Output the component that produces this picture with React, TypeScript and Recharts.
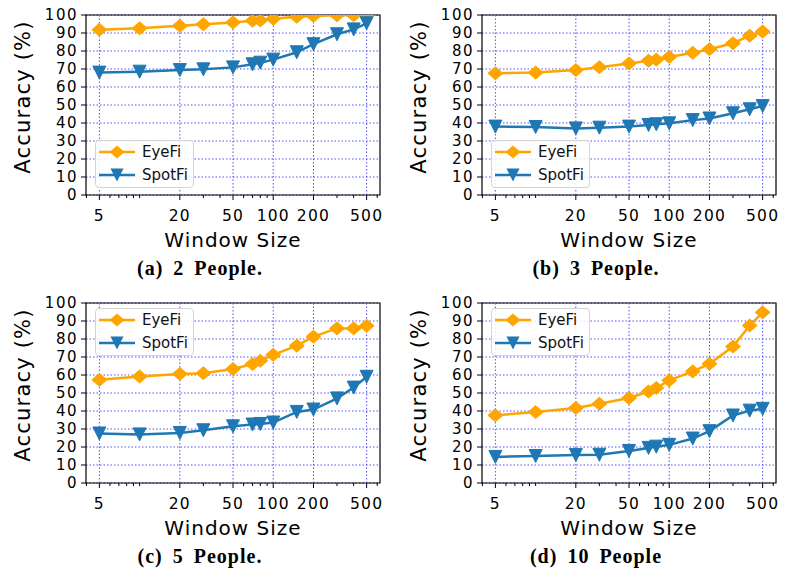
import * as React from "react";
import {
  CartesianGrid,
  Legend,
  Line,
  LineChart,
  ReferenceArea,
  ReferenceLine,
  XAxis,
  YAxis,
} from "recharts";

// window sizes shared by all four panels
const windowSizes = [5, 10, 20, 30, 50, 70, 80, 100, 150, 200, 300, 400, 500];

const eyefi2 = [91.8, 92.6, 94, 94.8, 95.9, 96.8, 97, 97.9, 99, 99.5, 99.8, 99.8, 99.8];
const spotfi2 = [68, 68.5, 69.4, 69.8, 70.9, 72.6, 73.5, 75.2, 79.3, 83.8, 89.3, 92, 95.4];

const eyefi3 = [67.6, 68, 69.4, 71, 73.1, 74.6, 75.2, 76.7, 79, 81, 84.3, 88.5, 90.8];
const spotfi3 = [38, 37.8, 37, 37.4, 38, 38.9, 39.3, 39.8, 41.6, 42.5, 45.4, 47.6, 49.4];

const eyefi5 = [57.3, 59.2, 60.6, 61, 63.3, 66.1, 67.9, 71.2, 76.3, 81.3, 85.9, 85.9, 87.3];
const spotfi5 = [27.5, 27, 27.8, 29.3, 31.5, 32.5, 32.8, 33.6, 39.5, 40.8, 47, 53, 59];

const eyefi10 = [37.6, 39.4, 41.7, 44, 47.2, 50.8, 52.8, 57, 62, 66.2, 75.8, 87.5, 94.8];
const spotfi10 = [14.5, 15, 15.5, 15.7, 17.8, 19.5, 20.2, 21.2, 24.7, 28.8, 37.5, 40.2, 41.2];

const xMajorTicks = [5, 20, 50, 100, 200, 500];
const xMinorTicks = [4, 6, 7, 8, 9, 10, 30, 40, 60, 70, 80, 90, 300, 400, 600];
const yTicks = [0, 10, 20, 30, 40, 50, 60, 70, 80, 90, 100];
const xDomain = [3.97, 629.5];

const ORANGE = "#ffa500";
const BLUE = "#1f77b4";
const GRID = "#5050ff";
const FONT = "DejaVu Sans";

const CHART_W = 390;
const CHART_H = 255;
const PLOT_TOP = 15;

const series = [
  { key: "eyefi", name: "EyeFi", color: ORANGE, marker: "diamond" },
  { key: "spotfi", name: "SpotFi", color: BLUE, marker: "triangle" },
];

const panels = [
  { caption: "(a) 2 People.", eyefi: eyefi2, spotfi: spotfi2, left: 0, top: 0, legendTop: 140 },
  { caption: "(b) 3 People.", eyefi: eyefi3, spotfi: spotfi3, left: 396, top: 0, legendTop: 140 },
  { caption: "(c) 5 People.", eyefi: eyefi5, spotfi: spotfi5, left: 0, top: 288, legendTop: 20 },
  { caption: "(d) 10 People", eyefi: eyefi10, spotfi: spotfi10, left: 396, top: 288, legendTop: 20 },
];

// marker drawn inside a nested svg so it gets clipped at the top spine
function Marker({ cx, cy, kind, color }: any) {
  if (cx == null || cy == null) return null;
  const lx = 10;
  const ly = cy - PLOT_TOP;
  const pts =
    kind === "diamond"
      ? `${lx},${ly - 6.5} ${lx + 7.5},${ly} ${lx},${ly + 6.5} ${lx - 7.5},${ly}`
      : `${lx - 6.5},${ly - 6.5} ${lx + 6.5},${ly - 6.5} ${lx},${ly + 6.5}`;
  return (
    <svg x={cx - 10} y={PLOT_TOP} width={20} height={400} overflow="hidden">
      <polygon points={pts} fill={color} stroke={color} strokeWidth={1} />
    </svg>
  );
}

function XTick({ x, y, payload }: any) {
  const major = xMajorTicks.includes(payload.value);
  return (
    <g>
      <line x1={x} x2={x} y1={y} y2={y + (major ? 5 : 3)} stroke="#000" strokeWidth={1} />
      {major && (
        <text x={x} y={y + 26} textAnchor="middle" fontFamily={FONT} fontSize={15.5} letterSpacing={1.2} fill="#000">
          {payload.value}
        </text>
      )}
    </g>
  );
}

function YTick({ x, y, payload }: any) {
  return (
    <g>
      <line x1={x - 5} x2={x} y1={y} y2={y} stroke="#000" strokeWidth={1} />
      <text x={x - 8} y={y} dy="0.36em" textAnchor="end" fontFamily={FONT} fontSize={15} letterSpacing={1.5} fill="#000">
        {payload.value}
      </text>
    </g>
  );
}

function LegendBox() {
  return (
    <div
      style={{
        position: "relative",
        width: 99,
        height: 48,
        boxSizing: "border-box",
        border: "1px solid #d4d4d4",
        borderRadius: 4,
        background: "rgba(255,255,255,0.85)",
        fontFamily: FONT,
        fontSize: 15,
      }}
    >
      {series.map((s, i) => (
        <div key={s.key} style={{ position: "absolute", left: 0, top: 1 + i * 23, height: 20, width: 97 }}>
          <svg width={40} height={20} style={{ position: "absolute", left: 2, top: 0 }}>
            <line x1={1} x2={37} y1={10} y2={10} stroke={s.color} strokeWidth={2.5} />
            {s.marker === "diamond" ? (
              <polygon points="19,3.5 26.5,10 19,16.5 11.5,10" fill={s.color} />
            ) : (
              <polygon points="12.5,3.5 25.5,3.5 19,16.5" fill={s.color} />
            )}
          </svg>
          <span style={{ position: "absolute", left: 46, top: 0, lineHeight: "20px", color: "#111" }}>{s.name}</span>
        </div>
      ))}
    </div>
  );
}

function Panel({ caption, eyefi, spotfi, left, top, legendTop }: any) {
  const data = windowSizes.map((w, i) => ({ w, eyefi: eyefi[i], spotfi: spotfi[i] }));
  return (
    <div style={{ position: "absolute", left, top, width: CHART_W, height: 290 }}>
      <LineChart width={CHART_W} height={CHART_H} data={data} margin={{ top: PLOT_TOP, right: 10, left: 0, bottom: 0 }}>
        <CartesianGrid vertical={false} stroke={GRID} strokeDasharray="1.5 2" strokeWidth={1} />
        {xMajorTicks.map((t) => (
          <ReferenceLine key={t} x={t} stroke={GRID} strokeDasharray="1.5 2" strokeWidth={1} />
        ))}
        <XAxis
          dataKey="w"
          type="number"
          scale="log"
          domain={xDomain}
          allowDataOverflow
          ticks={[...xMajorTicks, ...xMinorTicks].sort((a, b) => a - b)}
          interval={0}
          tickSize={0}
          tickMargin={0}
          tickLine={false}
          axisLine={false}
          tick={<XTick />}
          height={60}
          label={{
            content: ({ viewBox }: any) => (
              <text
                x={viewBox.x + viewBox.width / 2}
                y={viewBox.y + 52}
                textAnchor="middle"
                fontFamily={FONT}
                fontSize={20}
                letterSpacing={1}
                fill="#000"
              >
                Window Size
              </text>
            ),
          }}
        />
        <YAxis
          type="number"
          domain={[0, 100]}
          allowDataOverflow
          ticks={yTicks}
          interval={0}
          tickSize={0}
          tickMargin={0}
          tickLine={false}
          axisLine={false}
          tick={<YTick />}
          width={86}
          label={{
            content: ({ viewBox }: any) => (
              <text
                x={30}
                y={viewBox.y + viewBox.height / 2 - 8}
                transform={`rotate(-90 30 ${viewBox.y + viewBox.height / 2 - 8})`}
                textAnchor="middle"
                fontFamily={FONT}
                fontSize={21}
                letterSpacing={1.2}
                fill="#000"
              >
                Accuracy (%)
              </text>
            ),
          }}
        />
        <Legend
          layout="horizontal"
          verticalAlign="middle"
          align="center"
          content={() => <LegendBox />}
          wrapperStyle={{ left: 95, top: legendTop, width: "auto", height: "auto" }}
        />
        {series.map((s) => (
          <Line
            key={s.key}
            dataKey={s.key}
            name={s.name}
            stroke={s.color}
            strokeWidth={2.5}
            isAnimationActive={false}
            dot={(p: any) => <Marker key={`${s.key}-${p.index}`} cx={p.cx} cy={p.cy} kind={s.marker} color={s.color} />}
            activeDot={false}
          />
        ))}
        <ReferenceArea x1={xDomain[0]} x2={xDomain[1]} y1={0} y2={100} fill="none" stroke="#000" strokeWidth={1.2} />
      </LineChart>
      <div
        style={{
          position: "absolute",
          left: 0,
          top: 257,
          width: 400,
          height: 22,
          lineHeight: "22px",
          textAlign: "center",
          fontFamily: "Liberation Serif",
          fontWeight: "bold",
          fontSize: 20,
          letterSpacing: 1,
          wordSpacing: 4,
          color: "#000",
        }}
      >
        {caption}
      </div>
    </div>
  );
}

export default function App() {
  return (
    <div style={{ position: "absolute", left: 0, top: 0, width: 785, height: 576, background: "#fff" }}>
      {panels.map((p) => (
        <Panel key={p.caption} {...p} />
      ))}
    </div>
  );
}
